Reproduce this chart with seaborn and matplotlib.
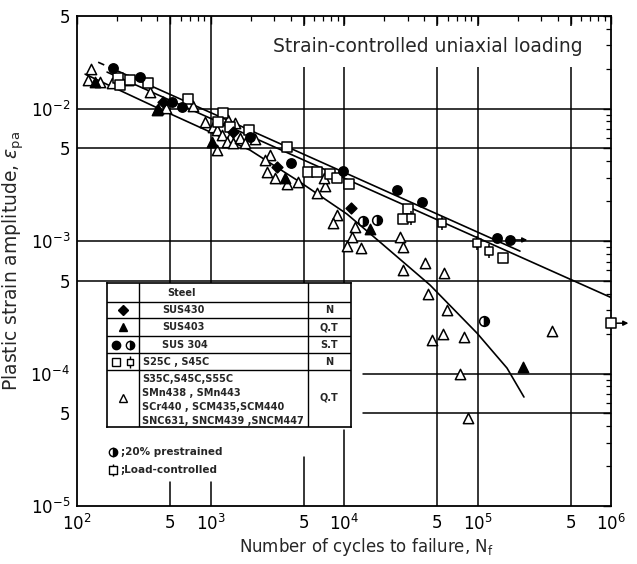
import matplotlib
matplotlib.use("Agg")
import numpy as np
import pandas as pd
import matplotlib.pyplot as plt
from matplotlib.path import Path
import seaborn as sns

# (cycles to failure, plastic strain amplitude)
tri_open = [(127, 0.0199), (121, 0.0164), (149, 0.0159), (183, 0.0156), (241, 0.0164),
            (352, 0.0133), (397, 0.00975), (464, 0.0101), (739, 0.0104), (909, 0.0079),
            (1044, 0.00725), (1119, 0.0069), (1219, 0.0063), (1352, 0.0082), (1527, 0.0078),
            (1400, 0.0061), (1330, 0.0056), (1476, 0.0055), (1664, 0.0060), (1813, 0.0055),
            (1119, 0.0049), (2153, 0.0059), (2792, 0.0045), (2560, 0.0041), (2649, 0.0033),
            (3042, 0.0030), (3741, 0.0027), (4519, 0.0028), (7207, 0.0026), (7080, 0.0030),
            (6281, 0.0023), (8872, 0.00157), (8276, 0.00137), (12080, 0.00128), (11470, 0.00107),
            (10520, 0.00092), (13400, 0.00089), (26250, 0.00107), (27660, 0.00090), (40450, 0.00068),
            (27660, 0.00060), (56100, 0.00057), (42560, 0.00040), (59160, 0.00030), (55210, 0.00020),
            (45610, 0.00018), (79250, 0.00019), (361400, 0.00021), (73960, 0.000099), (84920, 0.000046)]
tri_fill = [(136, 0.0159), (404, 0.0099), (1030, 0.0056), (3614, 0.0030), (15660, 0.00123),
            (219200, 0.000112)]
diamonds = [(441, 0.0112), (1476, 0.0067), (3149, 0.0036), (11270, 0.00177)]
circles = [(186, 0.0202), (296, 0.0173), (515, 0.0112), (612, 0.0103), (1977, 0.0061),
           (4009, 0.0039), (9840, 0.0034), (24950, 0.00243), (38370, 0.00197), (140000, 0.00105),
           (175000, 0.00102)]
half_circles = [(13870, 0.00142), (17660, 0.00144), (111900, 0.00025)]
squares = [(203, 0.0170), (210, 0.0150), (249, 0.0164), (340, 0.0156), (678, 0.0118),
           (1241, 0.0093), (1138, 0.0079), (1400, 0.0073), (1941, 0.0069), (3741, 0.0051),
           (5370, 0.0033), (6281, 0.0033), (7850, 0.0032), (8872, 0.0030), (10900, 0.0027),
           (30130, 0.00175), (27660, 0.00147), (155200, 0.00075), (1000000, 0.00024)]
load_ctrl = [(31770, 0.00149), (54200, 0.00137), (99100, 0.00097), (121900, 0.00084)]
runouts = [(175000, 0.00102), (1000000, 0.00024)]

# fitted lines
line_a_dash = [(144, 0.0224), (177, 0.0204)]
line_a = [(177, 0.0204), (208000, 0.00084)]
line_b = [(168, 0.01886), (1000000, 0.000375)]
line_c = [(115, 0.0182), (433, 0.00975), (1977, 0.00486), (4677, 0.00279), (10520, 0.00160),
          (18620, 0.000982), (44060, 0.000466), (99100, 0.000202), (166300, 0.000110),
          (222800, 0.0000665)]

x_ticks = [1e2, 5e2, 1e3, 5e3, 1e4, 5e4, 1e5, 5e5, 1e6]
x_labels = ["10$^2$", "5", "10$^3$", "5", "10$^4$", "5", "10$^5$", "5", "10$^6$"]
y_ticks = [1e-5, 5e-5, 1e-4, 5e-4, 1e-3, 5e-3, 1e-2, 5e-2]
y_labels = ["10$^{-5}$", "5", "10$^{-4}$", "5", "10$^{-3}$", "5", "10$^{-2}$", "5"]

table_rows = [("SUS430", "N"), ("SUS403", "Q.T"), ("SUS 304", "S.T"), ("S25C , S45C", "N")]
table_last = ["S35C,S45C,S55C", "SMn438 , SMn443", "SCr440 , SCM435,SCM440",
              "SNC631, SNCM439 ,SNCM447"]

sns.set_theme(style="white")
plt.rcParams['font.family'] = ['DejaVu Sans']
plt.rcParams['mathtext.fontset'] = 'dejavusans'

fig = plt.figure(figsize=(6.37, 5.64), dpi=100)
ax = fig.add_axes([0.1209, 0.1028, 0.8383, 0.8688])
ax.set_xscale('log')
ax.set_yscale('log')
ax.set_xlim(1e2, 1e6)
ax.set_ylim(1e-5, 5e-2)

# reference grid (partly interrupted as in the original)
gkw = dict(color='black', lw=1.1, zorder=1)
for yv in [1e-2, 5e-3, 1e-3, 5e-4]:
    ax.axhline(yv, **gkw)
for yv in [1e-4, 5e-5]:
    ax.axhline(yv, xmin=0.536, xmax=1, **gkw)
for xv, ylow in [(5e2, 0.049), (1e3, 0.049), (5e3, 0.10), (1e4, 0.155)]:
    ax.axvline(xv, ymin=0.455, ymax=1, **gkw)
    ax.axvline(xv, ymin=0, ymax=ylow, **gkw)
for xv in [5e4, 1e5, 5e5]:
    ax.axvline(xv, **gkw)

def draw_line(pts, **kw):
    df = pd.DataFrame(pts, columns=["N", "eps"])
    sns.lineplot(data=df, x="N", y="eps", ax=ax, color='black', lw=1.2, sort=False,
                 estimator=None, zorder=3, **kw)

draw_line(line_a_dash, linestyle=(0, (4, 3)))
draw_line(line_a)
draw_line(line_b)
draw_line(line_c)

def scat(pts, marker, face, size):
    df = pd.DataFrame(pts, columns=["N", "eps"])
    sns.scatterplot(data=df, x="N", y="eps", ax=ax, marker=marker, s=size, color=face,
                    edgecolor='black', linewidth=1.1, zorder=5, clip_on=False)

# load-controlled marker: square with stubs
load_marker = Path([(-0.5, -0.5), (0.5, -0.5), (0.5, 0.5), (-0.5, 0.5), (-0.5, -0.5),
                    (0, 0.5), (0, 0.85), (0, -0.5), (0, -0.85)],
                   [Path.MOVETO, Path.LINETO, Path.LINETO, Path.LINETO, Path.CLOSEPOLY,
                    Path.MOVETO, Path.LINETO, Path.MOVETO, Path.LINETO])

scat(tri_open, '^', 'white', 55)
scat(squares, 's', 'white', 45)
scat(load_ctrl, load_marker, 'white', 90)
scat(tri_fill, '^', 'black', 55)
scat(diamonds, 'D', 'black', 30)
scat(circles, 'o', 'black', 45)
hc = pd.DataFrame(half_circles, columns=["N", "eps"])
ax.plot(hc["N"], hc["eps"], linestyle='none', marker='o', fillstyle='right', ms=7,
        mfc='black', mfcalt='white', mec='black', mew=1.1, zorder=5)

for n, e in runouts:
    ax.annotate("", xy=(n * 1.35, e), xytext=(n, e),
                arrowprops=dict(arrowstyle='-|>', color='black', lw=1.1, mutation_scale=7,
                                shrinkA=4, shrinkB=0), annotation_clip=False, zorder=6)

ax.set_xticks(x_ticks)
ax.set_xticklabels(x_labels)
ax.set_yticks(y_ticks)
ax.set_yticklabels(y_labels)
ax.tick_params(which='both', direction='in', top=True, right=True, colors='black')
ax.tick_params(which='major', length=6, width=1.0, labelsize=12)
ax.tick_params(axis='x', which='major', pad=6)
ax.tick_params(axis='y', which='major', pad=5)
ax.tick_params(which='minor', length=3.5, width=0.9)
for s in ax.spines.values():
    s.set_color('black')
    s.set_linewidth(1.3)

ax.set_xlabel("Number of cycles to failure, N$_{\\rm f}$", fontsize=12)
ax.xaxis.set_label_coords(0.542, -0.062)
ax.set_ylabel("Plastic strain amplitude, $\\varepsilon_{\\rm pa}$", fontsize=13.5, labelpad=3)

ax.text(0.657, 0.937, "Strain-controlled uniaxial loading", transform=ax.transAxes,
        ha='center', va='center', fontsize=13.5, zorder=4,
        bbox=dict(fc='white', ec='none', pad=8))

# notes under the table
ax.plot([0.068], [0.110], transform=ax.transAxes, marker='o', fillstyle='right', ms=6,
        mfc='black', mfcalt='white', mec='black', mew=1, clip_on=False)
ax.text(0.082, 0.110, ";20% prestrained", transform=ax.transAxes, va='center', fontsize=7.5,
        fontweight='bold')
ax.plot([0.068], [0.073], transform=ax.transAxes, marker=load_marker, ms=9, mfc='white',
        mec='black', mew=1, clip_on=False)
ax.text(0.082, 0.073, ";Load-controlled", transform=ax.transAxes, va='center', fontsize=7.5,
        fontweight='bold')

# legend table
tab = fig.add_axes([0.168, 0.243, 0.383, 0.255])
tab.set_xlim(0, 244)
tab.set_ylim(144, 0)
tab.set_xticks([])
tab.set_yticks([])
tab.set_facecolor('white')
for s in tab.spines.values():
    s.set_color('black')
    s.set_linewidth(1.2)
row_edges = [0, 19, 35, 53, 70, 87, 144]
for yv in row_edges[1:-1]:
    tab.plot([0, 244], [yv, yv], color='black', lw=1.0)
for xv in [32, 201]:
    tab.plot([xv, xv], [0, 144], color='black', lw=1.0)
tkw = dict(fontsize=7, fontweight='bold', va='center')
tab.text(60, 10, "Steel", **tkw)
for i, (name, cond) in enumerate(table_rows):
    yc = (row_edges[i + 1] + row_edges[i + 2]) / 2
    tab.text(36 if i == 3 else 55, yc, name, **tkw)
    tab.text(222, yc, cond, ha='center', **tkw)
for j, txt in enumerate(table_last):
    tab.text(35, 96 + 14 * j, txt, **tkw)
tab.text(222, 115, "Q.T", ha='center', **tkw)
mk = dict(linestyle='none', mec='black', mew=1)
tab.plot([16], [27], marker='D', ms=5, mfc='black', **mk)
tab.plot([16], [44], marker='^', ms=6, mfc='black', **mk)
tab.plot([9], [61.5], marker='o', ms=6, mfc='black', **mk)
tab.plot([23], [61.5], marker='o', ms=6, fillstyle='right', mfc='black', mfcalt='white', **mk)
tab.plot([9], [78.5], marker='s', ms=5.5, mfc='white', **mk)
tab.plot([23], [78.5], marker=load_marker, ms=8, mfc='white', **mk)
tab.plot([16], [115], marker='^', ms=6, mfc='white', **mk)

fig.savefig("out.png", dpi=100)
